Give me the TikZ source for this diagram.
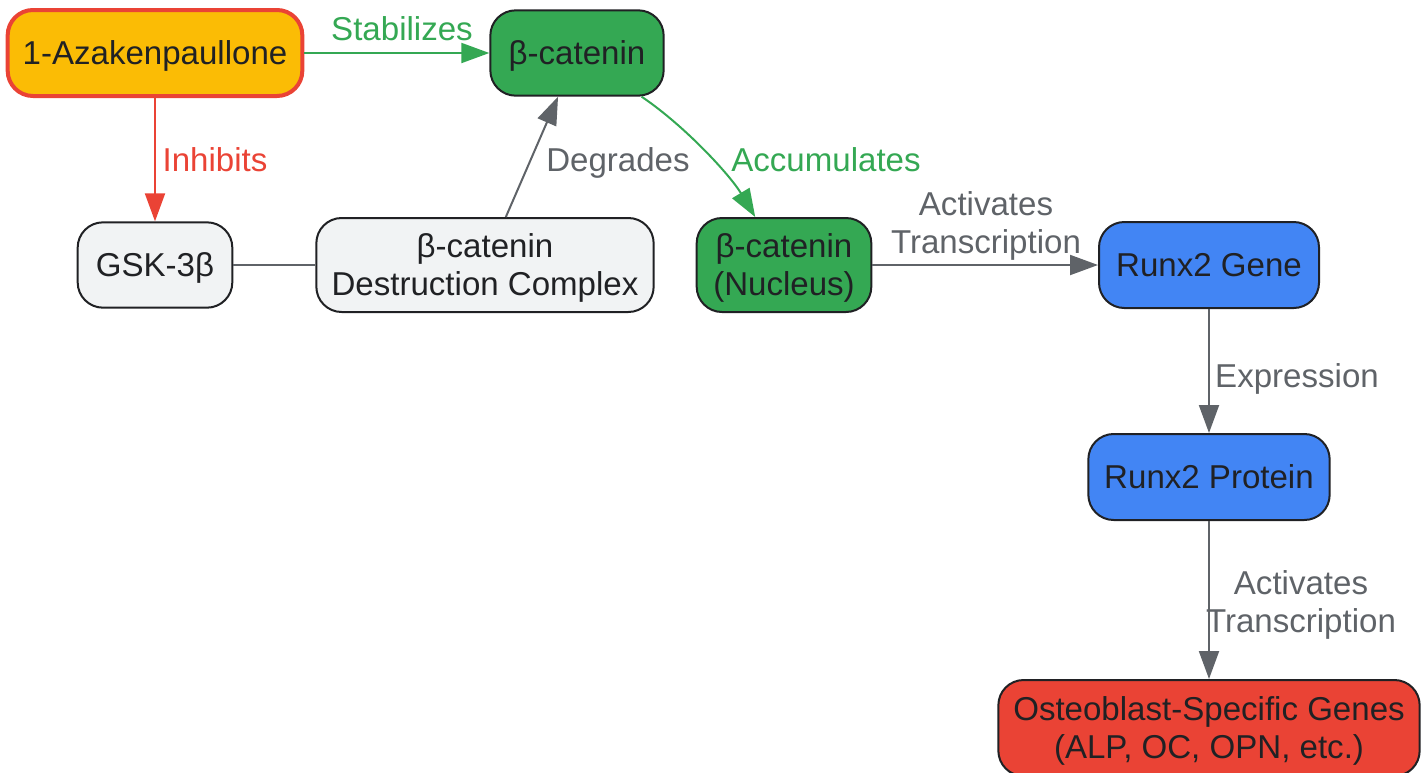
\documentclass[tikz,border=0pt]{standalone}
\usepackage{fontspec}
\setmainfont{Liberation Sans}
\usetikzlibrary{arrows.meta}
\definecolor{ink}{HTML}{202124}
\definecolor{wire}{HTML}{5F6368}
\definecolor{amber}{HTML}{FBBC05}
\definecolor{leaf}{HTML}{34A853}
\definecolor{ash}{HTML}{F1F3F4}
\definecolor{sky}{HTML}{4285F4}
\definecolor{tomato}{HTML}{EA4335}

\begin{document}
\begin{tikzpicture}[x=0.75pt, y=-0.75pt,
  box/.style={draw=ink, line width=1.5pt, rounded corners=19pt, text=ink, inner sep=0pt, align=center, text depth=0pt, font=\fontsize{24.8}{28.5}\selectfont},
  lbl/.style={inner sep=0pt, align=center, font=\fontsize{24.8}{28.5}\selectfont},
  link/.style={line width=1.5pt, -{Triangle[length=21pt, width=15pt]}}]
\useasboundingbox (0, 0) rectangle (1428, 772);
% Boxes
\node[box, fill=amber, draw=tomato, line width=3pt, minimum width=221pt, minimum height=64.5pt] (azak) at (155, 53) {1-Azakenpaullone};
\node[box, fill=leaf, minimum width=130pt, minimum height=64pt] (bcat) at (577, 53) {β-catenin};
\node[box, fill=ash, minimum width=116pt, minimum height=64pt] (gsk) at (155, 265) {GSK-3β};
\node[box, fill=ash, minimum width=253pt, minimum height=70.5pt] (dc) at (485, 265) {β-catenin\\Destruction Complex};
\node[box, fill=leaf, minimum width=131pt, minimum height=70.5pt] (nuc) at (784, 265) {β-catenin\\(Nucleus)};
\node[box, fill=sky, minimum width=165pt, minimum height=64.5pt] (gene) at (1209, 265) {Runx2 Gene};
\node[box, fill=sky, minimum width=181pt, minimum height=64.5pt] (prot) at (1209, 477) {Runx2 Protein};
\node[box, fill=tomato, minimum width=316pt, minimum height=72pt] (osteo) at (1209, 728) {Osteoblast-Specific Genes\\(ALP, OC, OPN, etc.)};
% Links
\draw[link, leaf] (azak) -- (bcat);
\draw[link, tomato] (azak) -- (gsk);
\draw[wire, line width=1.5pt] (gsk) -- (dc);
\draw[link, wire] (dc) -- (bcat);
\draw[link, leaf] (bcat) .. controls (685, 126) and (730, 175) .. (nuc);
\draw[link, wire] (nuc) -- (gene);
\draw[link, wire] (gene) -- (prot);
\draw[link, wire] (prot) -- (osteo);
%Text
\node[lbl, text=leaf] (tStab) at (402, 29) {Stabilizes};
\node[lbl, text=tomato] (tInh) at (215, 160) {Inhibits};
\node[lbl, text=wire] (tDeg) at (618, 163) {Degrades};
\node[lbl, text=leaf] (tAcc) at (826, 160) {Accumulates};
\node[lbl, text=wire] (tAct) at (986, 226) {Activates\\Transcription};
\node[lbl, text=wire] (tExp) at (1297, 379) {Expression};
\node[lbl, text=wire] (tAct2) at (1301, 605) {Activates\\Transcription};
\end{tikzpicture}
\end{document}
